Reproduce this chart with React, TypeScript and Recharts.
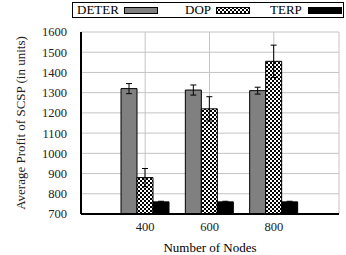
import React from 'react';
import {
    BarChart,
    Bar,
    XAxis,
    YAxis,
    CartesianGrid,
    ErrorBar
} from 'recharts';

const nodes = ['400', '600', '800'];
const deter = [1320, 1313, 1310];
const deterErr = [25, 25, 17];
const dop = [880, 1220, 1455];
const dopErr = [45, 60, 80];
const terp = [760, 760, 760];
const terpErr = [3, 3, 3];
const yTicks = [700, 800, 900, 1000, 1100, 1200, 1300, 1400, 1500, 1600];

const data = nodes.map((n, i) => ({
    nodes: n,
    deter: deter[i],
    deterErr: deterErr[i],
    dop: dop[i],
    dopErr: dopErr[i],
    terp: terp[i],
    terpErr: terpErr[i],
}));

const FONT = 'Liberation Serif';

const Checker = ({ id }: { id: string }) => (
    <pattern id={id} width={4} height={4} patternUnits="userSpaceOnUse">
        <rect width={4} height={4} fill="#fff" />
        <rect x={0} y={0} width={2} height={2} fill="#000" />
        <rect x={2} y={2} width={2} height={2} fill="#000" />
    </pattern>
);

const Swatch = ({ fill, pattern }: { fill: string; pattern?: boolean }) => (
    <svg width={34} height={7} style={{ display: 'block' }}>
        {pattern && (
            <defs>
                <Checker id="legendChecker" />
            </defs>
        )}
        <rect x={0.5} y={0.5} width={33} height={6} fill={pattern ? 'url(#legendChecker)' : fill} stroke="#000" />
    </svg>
);

const ChartLegend = () => (
    <div
        style={{
            position: 'absolute',
            left: 72,
            top: 2,
            width: 272,
            height: 16,
            border: '1px solid #000',
            boxSizing: 'border-box',
            fontFamily: FONT,
            fontSize: 13,
            lineHeight: '14px',
            color: '#000',
        }}
    >
        <span style={{ position: 'absolute', left: 4, top: 0 }}>DETER</span>
        <div style={{ position: 'absolute', left: 51, top: 4 }}><Swatch fill="#808080" /></div>
        <span style={{ position: 'absolute', left: 112, top: 0 }}>DOP</span>
        <div style={{ position: 'absolute', left: 143, top: 4 }}><Swatch fill="#000" pattern /></div>
        <span style={{ position: 'absolute', left: 197, top: 0 }}>TERP</span>
        <div style={{ position: 'absolute', left: 235, top: 4 }}><Swatch fill="#000" /></div>
    </div>
);

const tickStyle = { fill: '#222', fontFamily: FONT, fontSize: 12.5 };

export default function App() {
    return (
        <div style={{ position: 'absolute', left: 0, top: 0, width: 346, height: 255, background: '#fff', fontFamily: FONT }}>
            <BarChart
                width={346}
                height={255}
                data={data}
                margin={{ top: 32, right: 7, left: 0, bottom: 0 }}
                barCategoryGap={8}
                barGap={0}
                style={{ fontFamily: FONT }}
            >
                <defs>
                    <Checker id="dopChecker" />
                </defs>
                <CartesianGrid stroke="#c4c4c4" strokeWidth={1} />
                <XAxis
                    dataKey="nodes"
                    height={41}
                    padding={{ left: 32, right: 33 }}
                    axisLine={{ stroke: '#000', strokeWidth: 2 }}
                    tickLine={false}
                    tickMargin={2}
                    tick={tickStyle}
                    label={{ value: 'Number of Nodes', position: 'insideBottom', offset: 3, fill: '#000', fontFamily: FONT, fontSize: 13 }}
                />
                <XAxis xAxisId="top" dataKey="nodes" orientation="top" height={0} tick={false} tickLine={false} axisLine={{ stroke: '#000' }} />
                <YAxis
                    width={81}
                    domain={[700, 1600]}
                    ticks={yTicks}
                    interval={0}
                    allowDataOverflow
                    axisLine={{ stroke: '#000', strokeWidth: 2 }}
                    tickLine={false}
                    tickMargin={8}
                    tick={tickStyle}
                    label={{
                        value: 'Average Profit of SCSP (in units)',
                        angle: -90,
                        position: 'insideLeft',
                        offset: 20,
                        style: { textAnchor: 'middle', fontFamily: FONT },
                        fill: '#222',
                        fontSize: 13,
                    }}
                />
                <YAxis
                    yAxisId="right"
                    orientation="right"
                    width={0}
                    domain={[700, 1600]}
                    ticks={yTicks}
                    mirror
                    tickSize={4}
                    tickFormatter={() => ''}
                    tickLine={{ stroke: '#000' }}
                    axisLine={{ stroke: '#000' }}
                />
                <Bar dataKey="deter" fill="#808080" stroke="#000" strokeWidth={1} isAnimationActive={false}>
                    <ErrorBar dataKey="deterErr" width={3} stroke="#000" strokeWidth={1} />
                </Bar>
                <Bar dataKey="dop" fill="url(#dopChecker)" stroke="#000" strokeWidth={1} isAnimationActive={false}>
                    <ErrorBar dataKey="dopErr" width={3} stroke="#000" strokeWidth={1} />
                </Bar>
                <Bar dataKey="terp" fill="#000" stroke="#000" strokeWidth={1} isAnimationActive={false}>
                    <ErrorBar dataKey="terpErr" width={3} stroke="#000" strokeWidth={1} />
                </Bar>
            </BarChart>
            <ChartLegend />
        </div>
    );
}
